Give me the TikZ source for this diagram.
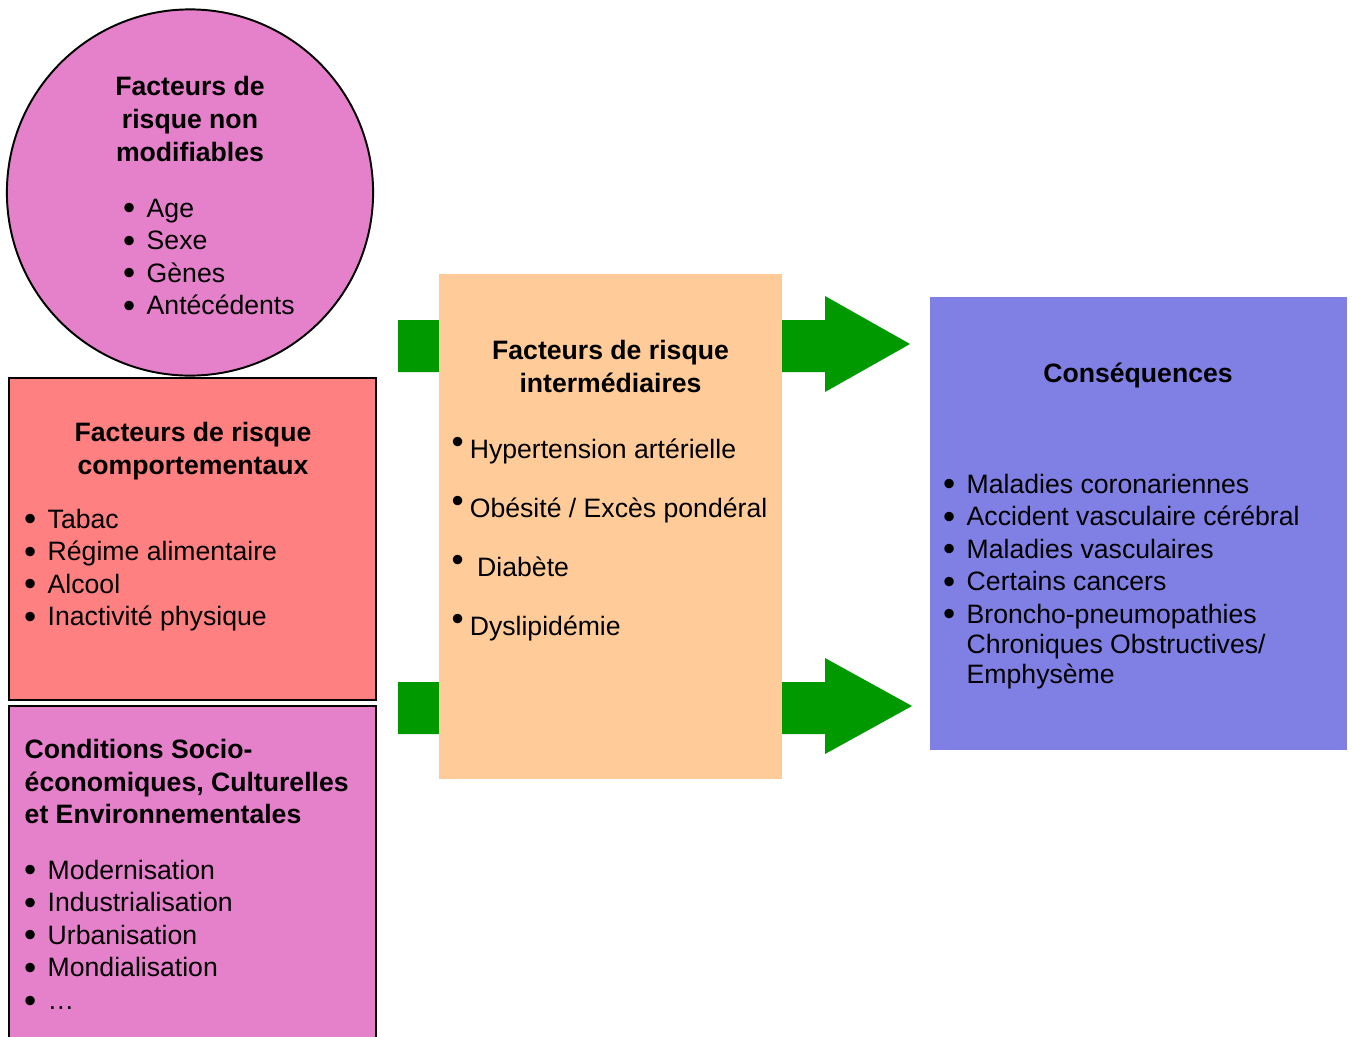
\documentclass[tikz,border=0pt]{standalone}
\usepackage{fontspec}
\setmainfont{Liberation Sans}
\usepackage{tikz}

\definecolor{rose}{RGB}{229,128,202}
\definecolor{saumon}{RGB}{255,128,128}
\definecolor{peche}{RGB}{255,204,153}
\definecolor{lavande}{RGB}{128,128,228}
\definecolor{vert}{RGB}{0,153,0}

\newcommand{\grospoint}{\raisebox{-0.026cm}{\scalebox{1.3}{\textbullet}}}
\newcommand{\puce}{\makebox[0.235cm][l]{\grospoint}}
\newcommand{\retrait}{\hspace*{0.235cm}}
\newcommand{\pucehaute}{\raisebox{0.08cm}{\grospoint}\hspace{0.06cm}}

\begin{document}
\begin{tikzpicture}[x = 0.01cm, y = -0.01cm,
		cadre/.style = {draw = black, line width = 0.55pt, inner sep = 0},
		plein/.style = {inner sep = 0},
		titre/.style = {font = \fontsize{7.57}{9.35}\selectfont\bfseries, align = center, inner sep = 0},
		liste/.style = {font = \fontsize{7.57}{9.25}\selectfont, align = left, anchor = west, inner sep = 0}]
	
		\useasboundingbox (0, 0) rectangle (1352, 1036);
		\clip (0, 0) rectangle (1352, 1036);
		
		% fleches vertes (sous le cadre central)
		\fill[vert] (398, 320) -- (825, 320) -- (825, 296) -- (910, 344) -- (825, 392) -- (825, 372) -- (398, 372) -- cycle;
		\fill[vert] (398, 682) -- (825, 682) -- (825, 658) -- (912, 706) -- (825, 754) -- (825, 734) -- (398, 734) -- cycle;
		
		% formes
		\node[cadre, circle, fill = rose, minimum size = 3.66cm] (nonmodif) at (190, 192.5) {};
		\node[cadre, fill = saumon, minimum width = 3.67cm, minimum height = 3.22cm] (comport) at (192.5, 539) {};
		\node[cadre, fill = rose, minimum width = 3.67cm, minimum height = 3.45cm] (socio) at (192.5, 878.5) {};
		\node[plein, fill = peche, minimum width = 3.43cm, minimum height = 5.05cm] (inter) at (610.5, 526.5) {};
		\node[plein, fill = lavande, minimum width = 4.17cm, minimum height = 4.53cm] (conseq) at (1138.5, 523.5) {};
		
		% textes
		\node[titre] (nonmodif-titre) at (190, 119) {Facteurs de\\risque non\\modifiables};
		\node[liste] (nonmodif-liste) at (122.5, 258) {\puce Age\\\puce Sexe\\\puce Gènes\\\puce Antécédents};
		
		\node[titre] (comport-titre) at (193, 451.5) {Facteurs de risque\\comportementaux};
		\node[liste] (comport-liste) at (23.5, 570) {\puce Tabac\\\puce Régime alimentaire\\\puce Alcool\\\puce Inactivité physique};
		
		\node[titre, align = left, anchor = west] (socio-titre) at (24, 781.5) {Conditions Socio-\\économiques, Culturelles\\et Environnementales};
		\node[liste] (socio-liste) at (23.5, 936) {\puce Modernisation\\\puce Industrialisation\\\puce Urbanisation\\\puce Mondialisation\\\puce …};
		
		\node[titre] (inter-titre) at (610.5, 366.5) {Facteurs de risque\\intermédiaires};
		\node[liste, font = \fontsize{7.57}{16.8}\selectfont] (inter-liste) at (451, 539) {\pucehaute Hypertension artérielle\\\pucehaute Obésité / Excès pondéral\\\pucehaute\ Diabète\\\pucehaute Dyslipidémie};
		
		\node[titre] (conseq-titre) at (1138, 375) {Conséquences};
		\node[liste] (conseq-liste) at (942.5, 581.5) {\puce Maladies coronariennes\\\puce Accident vasculaire cérébral\\\puce Maladies vasculaires\\\puce Certains cancers\\\puce Broncho-pneumopathies\\[-0.7pt]\retrait Chroniques Obstructives/\\[-0.7pt]\retrait Emphysème};
		
	\end{tikzpicture}
\end{document}
